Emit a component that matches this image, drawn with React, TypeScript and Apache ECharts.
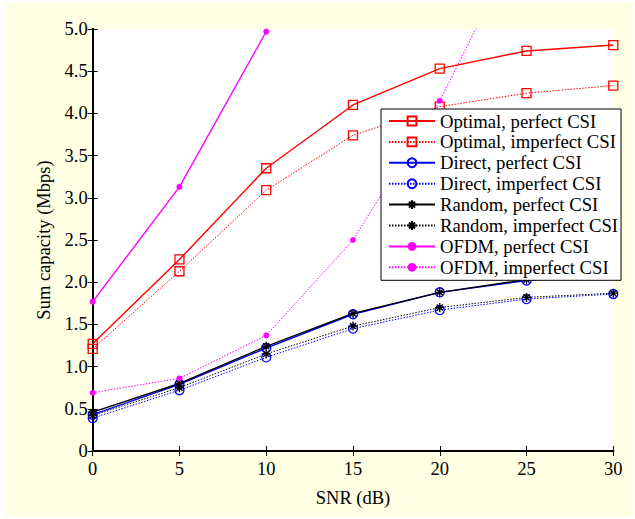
import React, { useEffect, useRef } from "react";
import * as echarts from "echarts";

const snr = [0, 5, 10, 15, 20, 25, 30];
const optimalPerfect = [1.27, 2.27, 3.35, 4.1, 4.53, 4.74, 4.81];
const optimalImperfect = [1.21, 2.13, 3.09, 3.74, 4.08, 4.24, 4.33];
const directPerfect = [0.43, 0.79, 1.22, 1.62, 1.88, 2.02, 2.11];
const directImperfect = [0.39, 0.72, 1.11, 1.45, 1.67, 1.8, 1.86];
const randomPerfect = [0.46, 0.8, 1.24, 1.63, 1.88, 2.03, 2.12];
const randomImperfect = [0.42, 0.75, 1.15, 1.48, 1.7, 1.82, 1.87];
const ofdmPerfect: (number | null)[] = [1.77, 3.13, 4.97, null, null, null, null];
const ofdmImperfect: (number | null)[] = [0.69, 0.86, 1.37, 2.5, 4.15, 6.2, null];

const seriesNames = [
  "Optimal, perfect CSI",
  "Optimal, imperfect CSI",
  "Direct, perfect CSI",
  "Direct, imperfect CSI",
  "Random, perfect CSI",
  "Random, imperfect CSI",
  "OFDM, perfect CSI",
  "OFDM, imperfect CSI",
];

const FONT = "'Liberation Serif', 'Times New Roman', serif";
const STAR =
  "path://M5,0 L5,10 M0,5 L10,5 M1.6,1.6 L8.4,8.4 M1.6,8.4 L8.4,1.6";

export default function App() {
  const ref = useRef<HTMLDivElement>(null);
  useEffect(() => {
    if (!ref.current) return;
    const chart = echarts.init(ref.current, undefined, { renderer: "svg" });
    const pairs = (arr: (number | null)[]) =>
      snr.map((x, i) => [x, arr[i]]);

    const mk = (
      name: string,
      data: (number | null)[],
      color: string,
      dotted: boolean,
      kind: "square" | "circle" | "star" | "dot"
    ): any => {
      let symbol = "rect";
      let symbolSize = 9;
      let itemStyle: any = {};
      if (kind === "square") {
        symbol = "rect";
        symbolSize = 9;
        itemStyle = { color: "transparent", borderColor: color, borderWidth: 1.3 };
      } else if (kind === "circle") {
        symbol = "circle";
        symbolSize = 9;
        itemStyle = { color: "transparent", borderColor: color, borderWidth: 1.3 };
      } else if (kind === "star") {
        symbol = STAR;
        symbolSize = 9;
        itemStyle = { color: "transparent", borderColor: color, borderWidth: 1.3 };
      } else {
        symbol = "circle";
        symbolSize = 6;
        itemStyle = { color: color, borderColor: color, borderWidth: 0 };
      }
      return {
        name,
        type: "line",
        data: pairs(data),
        symbol,
        symbolSize,
        showSymbol: true,
        clip: true,
        connectNulls: false,
        lineStyle: {
          color,
          width: dotted ? 1 : 1.4,
          type: dotted ? [1.5, 1.5] : "solid",
        },
        itemStyle,
        emphasis: { disabled: true },
        xAxisIndex: 0,
        yAxisIndex: 0,
      };
    };

    const axisCommon = {
      type: "value" as const,
      axisLine: { show: true, lineStyle: { color: "#000", width: 2 } },
      axisTick: { show: true, inside: true, length: 5, lineStyle: { color: "#000", width: 1 } },
      splitLine: { show: false },
    };

    const option: any = {
      animation: false,
      backgroundColor: "#FFFFE3",
      textStyle: { fontFamily: FONT },
      grid: {
        left: 87.7,
        top: 27,
        width: 520.6,
        height: 422,
        show: true,
        backgroundColor: "#fff",
        borderWidth: 0,
      },
      xAxis: [
        {
          ...axisCommon,
          position: "bottom",
          min: 0,
          max: 30,
          interval: 5,
          name: "SNR (dB)",
          nameLocation: "middle",
          nameGap: 37,
          nameTextStyle: { fontFamily: FONT, fontSize: 18.5, color: "#000" },
          axisLabel: { fontFamily: FONT, fontSize: 18.5, color: "#000", margin: 8 },
        },
        {
          ...axisCommon,
          position: "top",
          min: 0,
          max: 30,
          interval: 5,
          axisLabel: { show: false },
        },
      ],
      yAxis: [
        {
          ...axisCommon,
          position: "left",
          min: 0,
          max: 5,
          interval: 0.5,
          name: "Sum capacity (Mbps)",
          nameLocation: "middle",
          nameGap: 38,
          nameTextStyle: { fontFamily: FONT, fontSize: 18.5, color: "#000" },
          axisLabel: {
            fontFamily: FONT,
            fontSize: 18.5,
            color: "#000",
            margin: 5,
            formatter: (v: number) => (v === 0 ? "0" : v.toFixed(1)),
          },
        },
        {
          ...axisCommon,
          position: "right",
          min: 0,
          max: 5,
          interval: 0.5,
          axisLabel: { show: false },
        },
      ],
      legend: {
        data: seriesNames,
        orient: "vertical",
        left: 376,
        top: 107,
        backgroundColor: "#fff",
        borderColor: "#000",
        borderWidth: 1,
        padding: [2.5, 3, 3.5, 7],
        itemWidth: 46,
        itemHeight: 11,
        itemGap: 1.9,
        selectedMode: false,
        textStyle: { fontFamily: FONT, fontSize: 18.7, color: "#000", lineHeight: 18.7 },
      },
      series: [
        mk(seriesNames[0], optimalPerfect, "#FF0000", false, "square"),
        mk(seriesNames[1], optimalImperfect, "#FF0000", true, "square"),
        mk(seriesNames[2], directPerfect, "#0000FF", false, "circle"),
        mk(seriesNames[3], directImperfect, "#0000FF", true, "circle"),
        mk(seriesNames[4], randomPerfect, "#000000", false, "star"),
        mk(seriesNames[5], randomImperfect, "#000000", true, "star"),
        mk(seriesNames[6], ofdmPerfect, "#FF00FF", false, "dot"),
        mk(seriesNames[7], ofdmImperfect, "#FF00FF", true, "dot"),
      ],
    };
    chart.setOption(option);
    return () => chart.dispose();
  }, []);

  return (
    <div
      style={{
        position: "fixed",
        left: 0,
        top: 0,
        width: 635,
        height: 519,
        background: "#fff",
      }}
    >
      <div
        ref={ref}
        style={{ position: "absolute", left: 5, top: 2, width: 628, height: 515 }}
      />
    </div>
  );
}
